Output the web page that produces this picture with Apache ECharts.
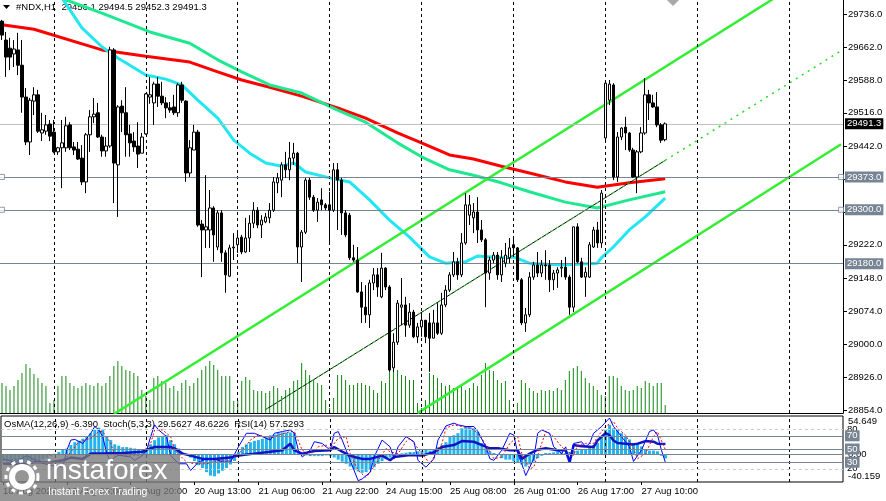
<!DOCTYPE html>
<html><head><meta charset="utf-8">
<script src="https://cdn.jsdelivr.net/npm/echarts@6/dist/echarts.min.js"></script>
<style>html,body{margin:0;padding:0;background:#fff;overflow:hidden}#c{width:886px;height:501px}</style>
</head><body><div id="c"></div>
<script>
// ---------- DATA ----------
const symbolName = '#NDX,H1';
const timeLabels = ['18 Aug 2024','19 Aug 03:00','19 Aug 20:00','20 Aug 13:00','21 Aug 06:00','21 Aug 22:00','24 Aug 15:00','25 Aug 08:00','26 Aug 01:00','26 Aug 17:00','27 Aug 10:00'];
const barsPerLabel = 16;
const totalSlots = 211;
const priceTicks = [29736,29662,29588,29516,29442,29369,29295,29222,29148,29074,29000,28926,28854];
const priceMin = 28847.3, priceMax = 29767.2;
const gridBars = [13,36,59,82,105,128,151,174,197];

const opens = [29720,29678,29660,29647,29656,29622,29551,29451,29542,29556,29471,29475,29491,29473,29429,29438,29438,29489,29440,29435,29415,29362,29467,29507,29516,29462,29431,29442,29656,29400,29531,29516,29469,29453,29442,29426,29469,29551,29538,29580,29553,29538,29527,29529,29516,29578,29542,29382,29433,29473,29268,29255,29255,29304,29217,29293,29204,29152,29215,29222,29239,29206,29237,29270,29299,29266,29273,29282,29299,29360,29366,29400,29389,29415,29426,29217,29250,29366,29328,29299,29322,29311,29311,29299,29389,29366,29293,29288,29193,29188,29117,29083,29066,29137,29155,29106,29170,29128,28948,29005,29083,29088,29043,29072,29017,29039,29054,29048,29014,29048,29025,29088,29121,29155,29184,29155,29226,29288,29282,29295,29255,29233,29159,29188,29199,29155,29181,29193,29222,29215,29144,29048,29066,29150,29177,29159,29177,29177,29144,29159,29170,29172,29150,29083,29262,29184,29150,29150,29217,29255,29226,29460,29544,29578,29373,29462,29484,29471,29433,29373,29429,29471,29556,29538,29529,29489,29456.1];
const closes = [29689,29640,29640,29658,29622,29551,29451,29544,29556,29475,29478,29489,29464,29429,29438,29449,29487,29438,29433,29413,29362,29467,29507,29513,29462,29431,29442,29656,29404,29529,29516,29467,29449,29440,29424,29462,29558,29556,29580,29553,29538,29527,29522,29516,29578,29544,29382,29438,29473,29266,29255,29262,29304,29244,29293,29204,29155,29215,29217,29237,29206,29237,29270,29299,29266,29277,29284,29299,29362,29371,29400,29389,29415,29426,29217,29250,29366,29328,29299,29317,29311,29304,29299,29389,29366,29293,29244,29193,29188,29117,29083,29066,29137,29155,29128,29170,29128,28943,29005,29092,29088,29043,29072,29017,29039,29054,29017,29014,29048,29025,29088,29121,29155,29184,29155,29226,29311,29311,29295,29255,29233,29159,29188,29199,29155,29193,29199,29215,29215,29144,29048,29066,29150,29177,29159,29177,29175,29144,29159,29166,29172,29150,29083,29262,29184,29150,29161,29222,29255,29226,29337,29582,29580,29373,29462,29482,29471,29433,29373,29429,29471,29556,29538,29529,29489,29455,29491.3];
const lows = [29678,29596,29611,29618,29600,29516,29444,29422,29511,29471,29453,29467,29453,29426,29422,29348,29429,29433,29422,29411,29355,29337,29429,29493,29460,29418,29418,29438,29315,29284,29473,29418,29418,29429,29393,29426,29467,29536,29489,29529,29533,29504,29516,29511,29507,29538,29362,29373,29433,29262,29150,29215,29215,29184,29210,29184,29115,29150,29188,29204,29201,29204,29206,29259,29259,29237,29270,29270,29295,29337,29328,29371,29366,29400,29181,29139,29246,29322,29295,29273,29299,29299,29228,29295,29255,29244,29239,29188,29184,29115,29048,29048,29037,29121,29106,29103,29121,28939,28939,28999,29043,29017,29037,29014,29003,29017,29003,28939,29014,29021,29021,29083,29117,29150,29144,29150,29222,29266,29248,29226,29228,29083,29144,29181,29144,29139,29172,29181,29195,29139,29043,29028,29061,29144,29150,29150,29144,29117,29121,29126,29150,29144,29066,29072,29181,29148,29106,29148,29215,29215,29215,29455,29533,29366,29362,29455,29433,29429,29371,29337,29426,29467,29500,29527,29484,29449,29452.3];
const highs = [29723,29696,29683,29678,29694,29678,29571,29549,29573,29567,29516,29511,29500,29500,29440,29500,29507,29495,29451,29451,29444,29471,29522,29549,29538,29467,29462,29663,29660,29533,29544,29573,29489,29473,29495,29471,29560,29596,29585,29596,29585,29551,29540,29556,29582,29585,29544,29455,29489,29478,29277,29377,29344,29308,29299,29299,29210,29222,29248,29248,29244,29282,29288,29317,29306,29288,29293,29315,29373,29382,29406,29429,29451,29449,29429,29255,29371,29371,29333,29326,29348,29315,29340,29404,29404,29371,29299,29293,29222,29217,29139,29132,29144,29170,29170,29204,29172,29132,29025,29099,29148,29106,29092,29077,29048,29072,29054,29070,29077,29092,29115,29132,29161,29206,29193,29248,29337,29333,29315,29328,29277,29237,29195,29206,29206,29210,29226,29237,29237,29217,29148,29081,29161,29184,29206,29188,29210,29188,29166,29172,29188,29195,29155,29262,29270,29193,29172,29228,29262,29273,29344,29589,29589,29582,29473,29484,29507,29473,29438,29433,29484,29593,29567,29556,29562,29493,29494.5];
const volumes = [3000,2700,2300,2700,3300,4000,4900,4500,3900,3500,3000,2700,1000,1300,2700,3700,3700,3000,2700,2500,2700,3000,2800,2700,3000,2700,3000,3700,4700,5200,4700,4300,4200,4000,3700,2300,1700,1300,3500,3700,3200,3000,2500,2700,2200,3000,3300,2700,3000,3500,4300,4700,5200,4800,4300,3700,3700,3700,1200,1300,3200,3600,3300,2300,2200,2200,2000,2200,2700,2500,1700,2300,2500,3200,3300,5000,4300,3800,3300,3000,2800,1300,500,1500,3800,3800,3300,2800,2800,3000,3000,2800,2700,2300,2000,3200,3000,4300,4800,4300,3800,3700,3300,3300,1000,500,1300,4000,3800,3500,3000,2700,2800,2500,2500,2800,2300,2500,3000,2700,3800,5000,4300,4200,3300,3000,3200,1300,300,1000,3300,3000,2500,2200,2000,2300,2200,2300,2200,2500,2300,3300,4200,4500,4700,4200,3500,3000,2700,2300,1800,1700,3700,3700,3500,2700,2300,2200,2300,2700,2500,3200,3000,2700,3000,3000,800];

const maRed = [[0,29712],[8,29702],[25,29656],[36,29642],[47,29629],[54,29607],[60,29589],[67,29573],[75,29553],[84,29527],[91,29504],[99,29471],[105,29449],[112,29422],[118,29413],[125,29397],[132,29382],[141,29362],[149,29350],[157,29360],[166,29369]];
const maGreen = [[14,29774],[25,29738],[37,29696],[47,29671],[54,29634],[60,29607],[67,29578],[75,29560],[84,29522],[91,29495],[99,29449],[105,29418],[112,29389],[118,29377],[125,29360],[132,29340],[141,29317],[149,29304],[157,29322],[166,29340]];
const maCyan = [[15,29772],[20,29705],[25,29663],[29,29638],[36,29600],[41,29591],[45,29578],[49,29544],[54,29504],[58,29455],[62,29426],[66,29404],[70,29397],[73,29404],[76,29384],[82,29371],[87,29362],[92,29322],[97,29277],[102,29239],[107,29195],[111,29181],[116,29184],[119,29197],[125,29193],[128,29195],[132,29181],[140,29177],[149,29181],[150,29193],[153,29217],[157,29255],[161,29284],[166,29326]];

const upperChannel = [[28,28845],[197,29792]];
const lowerChannel = [[104,28847],[210,29446]];
const midTrend = [[66,28855],[166,29410]];
const midTrendRay = [[166,29410],[210,29654]];

const bidPrice = 29491.3;
const levelLines = [29373.0, 29300.0];
const supportLine = 29180.0;

const osma = [-10,-11,-12,-13,-13,-14,-15,-14,-12,-10,-8,-6,-3,0.5,3,6,8,13,17,19,22,25,30,35,38,35,25,20,14,12,10,10,9,8,7,6,8,14,20,24,26,27,20,14,8,2,-1,-5,-10,-16,-20,-26,-31,-32,-28,-24,-20,-15,-10,3,10,14,17,19,20,22,24,27,28,30,31,31,31,30,2,-2,-2,-3,-3,-3,-3,-2,-3,-5,-8,-11,-14,-18,-22,-25,-27,-26,-23,-19,-14,-10,-7,-5,-3,-1,1,2,3,3,4,5,6,5,7,10,13,17,25,27,30,37,40,40,37,32,16,8.6,4,1.5,0,-6,-8,-8,-10.5,-13,-15,-18,-15,-10.5,-6,-2.5,1.5,1.5,2.5,4,2.5,1.5,2.5,5,5,6,7,11,13,16,25,35,42,37,35,30,25,21,16,13,11,6,5,5,4,-2.5,-6.39];
const osmaMax = 54.649, osmaMin = -40.159;
const stochMain = [[0,35],[3,30],[6,40],[9,30],[12,25],[15,22.5],[16,48.2],[17,63.5],[18,64.6],[20,58.4],[22,73.8],[23,84.1],[24,78.9],[25,68.7],[26,43],[27,30.2],[28,37.9],[29,40.5],[32,37.9],[33,32.8],[35,40.5],[36,48.2],[37,68.7],[38,86.6],[39,78.9],[41,68.7],[42,40.5],[44,27.6],[46,27.6],[47,17.4],[49,30.2],[51,35.3],[53,35.3],[55,30.2],[57,30.2],[59,53.3],[61,73.8],[63,73.8],[65,68.7],[67,63.5],[68,73.8],[70,76.4],[72,78.9],[73,73.8],[74,48.2],[75,37.9],[77,48.2],[78,61],[80,58.4],[82,48.2],[83,73.8],[84,76.4],[85,63.5],[87,32.8],[89,2],[90,4.6],[92,14.8],[93,37.9],[95,63.5],[97,53.3],[98,35.3],[99,53.3],[101,68.7],[103,61],[104,32.8],[106,22.5],[108,35.3],[109,63.5],[111,85],[113,89.2],[114,86.6],[116,84.1],[118,84.1],[119,76.4],[121,53.3],[122,35.3],[123,32.8],[125,48.2],[127,73.8],[128,71.2],[129,43],[130,27.6],[131,9.7],[133,35.3],[134,73.8],[135,78.9],[137,73.8],[138,53.3],[140,43],[141,53.3],[142,30.2],[143,58.4],[145,61],[146,53.3],[147,58.4],[148,73.8],[150,84.1],[152,96.9],[153,84.1],[155,68.7],[157,53.3],[158,31.2],[160,48.2],[162,76.4],[163,78.9],[164,71.2],[165,48.2],[166,29.5627]];
const stochSignal = [[0,33],[4,35],[8,35],[12,28],[14,25],[16,37.9],[18,53.3],[19,61],[22,66.1],[24,76.4],[25,76.4],[27,58.4],[28,40.5],[32,40.5],[35,40.5],[37,58.4],[38,78.9],[40,78.9],[42,68.7],[43,48.2],[46,30.2],[48,27.6],[51,27.6],[54,32.8],[57,32.8],[60,48.2],[62,63.5],[64,71.2],[67,66.1],[69,71.2],[72,76.4],[73,76.4],[75,48.2],[77,40.5],[79,53.3],[81,55.9],[82,50.7],[84,66.1],[86,68.7],[87,43],[89,17.4],[91,7.1],[92,14.8],[94,32.8],[96,50.7],[97,45.6],[99,43],[101,61],[102,66.1],[105,43],[107,27.6],[108,37.9],[110,58.4],[111,81.5],[113,86.6],[115,84.1],[117,81.5],[118,78.9],[120,66.1],[122,45.6],[123,35.3],[125,37.9],[127,58.4],[129,68.7],[130,43],[132,20],[133,22.5],[135,58.4],[136,76.4],[138,68.7],[140,53.3],[141,48.2],[143,40.5],[144,55.9],[146,58.4],[148,58.4],[149,68.7],[151,84.1],[153,91.7],[154,81.5],[156,71.2],[158,50.7],[159,35.3],[161,43],[163,68.7],[164,76.4],[166,48.6226]];
const rsi = [[0,28],[4,27],[8,30],[12,30],[15,33],[17,37],[20,35],[22,43],[25,43],[30,44],[35,46],[36,49],[38,53],[42,53],[43,51],[45,43],[47,40],[50,35],[53,35],[57,37],[58,39],[60,41],[63,43],[67,46],[70,48],[72,58],[73,48],[75,43],[78,47],[82,48],[83,53],[85,46],[87,40],[88,38],[90,35],[92,35],[95,40],[97,33],[98,38],[102,41],[105,40],[108,45],[110,53],[113,56],[115,62],[118,61],[120,56],[122,51],[124,51],[127,48],[129,48],[130,35],[132,43],[134,49],[136,51],[139,48],[141,48],[142,30],[143,56],[145,54],[148,53],[149,63],[151,74],[152,71],[153,63],[154,59],[156,58],[158,57],[159,58],[161,62],[163,61],[164,58],[166,57.5293]];
const stochLevels = [80, 70, 50, 30, 20];

// ---------- CHART ----------
const F = "'Liberation Sans',sans-serif";
const FS = 9.5;
const SLATE = '#778494';
const categories = Array.from({length: totalSlots}, (_, i) => String(i));
const last = opens.length - 1;
const headerText = symbolName + '  ' + [opens[last], highs[last], lows[last], closes[last]].map(v => v.toFixed(1)).join(' ');
const oscText = 'OsMA(12,26,9) ' + osma[last].toFixed(3) + '  Stoch(5,3,3) ' + stochMain[stochMain.length-1][1].toFixed(4) + ' ' + stochSignal[stochSignal.length-1][1].toFixed(4) + '  RSI(14) ' + rsi[rsi.length-1][1].toFixed(4);
const labelInterval = (i) => i % barsPerLabel === 0 && i / barsPerLabel < timeLabels.length;
const labelFor = (v) => { const n = parseInt(v, 10); return (n % barsPerLabel === 0 && timeLabels[n / barsPerLabel]) || ''; };

const boxLabel = (txt, bg) => ({show: true, position: 'end', distance: 2, formatter: txt, backgroundColor: bg, color: '#fff', padding: [1, 2, 0, 2], fontSize: FS, fontFamily: F});
const vDash = {color: '#000', type: [3, 3], width: 1};

const chart = echarts.init(document.getElementById('c'), null, {renderer: 'canvas'});
chart.setOption({
  animation: false,
  backgroundColor: '#fff',
  grid: [
    {left: -2, right: 43, top: 0, height: 413, show: false},
    {left: -2, right: 43, top: 416, height: 66, show: true, borderColor: '#000', borderWidth: 1, backgroundColor: 'transparent'}
  ],
  xAxis: [
    {type: 'category', gridIndex: 0, data: categories, boundaryGap: true,
     axisLine: {show: true, onZero: false, lineStyle: {color: '#000', width: 1}}, axisTick: {show: false}, axisLabel: {show: false}, splitLine: {show: false}},
    {type: 'category', gridIndex: 1, data: categories, boundaryGap: true,
     axisLine: {show: false, onZero: false},
     axisTick: {show: true, interval: labelInterval, alignWithLabel: true, length: 3, lineStyle: {color: '#000'}},
     axisLabel: {interval: labelInterval, formatter: labelFor, hideOverlap: false, showMaxLabel: true, showMinLabel: true,
       align: 'left', margin: 4, fontSize: FS, color: '#000', fontFamily: F},
     splitLine: {show: false}}
  ],
  yAxis: [
    {type: 'value', gridIndex: 0, position: 'right', min: priceMin, max: priceMax, scale: true,
     axisLine: {show: true, lineStyle: {color: '#000', width: 1}},
     axisTick: {show: true, length: 4, customValues: priceTicks, lineStyle: {color: '#000'}},
     axisLabel: {customValues: priceTicks, formatter: v => v.toFixed(1), margin: 5, fontSize: FS, color: '#000', fontFamily: F},
     splitLine: {show: false}},
    {type: 'value', gridIndex: 0, min: 0, max: 41300, show: false},
    {type: 'value', gridIndex: 1, position: 'right', min: osmaMin, max: osmaMax,
     axisLine: {show: false}, axisTick: {show: false}, splitLine: {show: false},
     axisLabel: {customValues: [osmaMax, 0, osmaMin], margin: 5, fontSize: FS, color: '#000', fontFamily: F,
       formatter: v => v === osmaMax ? '{t|' + osmaMax.toFixed(3) + '}' : (v === osmaMin ? '{b|' + osmaMin.toFixed(3) + '}' : '0.00'),
       rich: {t: {padding: [11, 0, 0, 0], fontSize: FS, fontFamily: F, color: '#000'}, b: {padding: [0, 0, 11, 0], fontSize: FS, fontFamily: F, color: '#000'}}}},
    {type: 'value', gridIndex: 1, position: 'right', min: 0, max: 100,
     axisLine: {show: false}, axisTick: {show: false}, splitLine: {show: false},
     axisLabel: {customValues: [80, 20], margin: 4, fontSize: FS, color: '#000', fontFamily: F}}
  ],
  series: [
    {type: 'bar', name: 'vol', xAxisIndex: 0, yAxisIndex: 1, data: volumes, barWidth: 1, silent: true,
     itemStyle: {color: '#118811'}, z: 1,
     markLine: {silent: true, symbol: 'none', label: {show: false}, lineStyle: vDash,
       data: gridBars.map(i => ({xAxis: i}))}},
    {type: 'line', name: 'hlines', xAxisIndex: 0, yAxisIndex: 0, data: [], silent: true,
     markLine: {silent: true, symbol: 'none',
       data: [
         {yAxis: bidPrice, lineStyle: {color: '#c0c0c0', width: 1, type: 'solid'}, label: boxLabel(bidPrice.toFixed(1), '#000')},
         ...levelLines.map(p => ({yAxis: p, lineStyle: {color: SLATE, width: 1, type: 'solid'}, label: boxLabel(p.toFixed(1), SLATE)})),
         {yAxis: supportLine, lineStyle: {color: SLATE, width: 1, type: 'solid'}, label: boxLabel(supportLine.toFixed(1), SLATE)}
       ]}},
    {type: 'scatter', xAxisIndex: 0, yAxisIndex: 0, silent: true, symbol: 'rect', symbolSize: 5,
     itemStyle: {color: '#fff', borderColor: SLATE, borderWidth: 1},
     data: levelLines.flatMap(p => [[0, p], [totalSlots - 1, p]]), z: 6},
    {type: 'line', name: 'maRed', xAxisIndex: 0, yAxisIndex: 0, data: maRed, showSymbol: false, silent: true,
     lineStyle: {color: '#ff0000', width: 3}, z: 3},
    {type: 'line', name: 'maGreen', xAxisIndex: 0, yAxisIndex: 0, data: maGreen, showSymbol: false, silent: true,
     lineStyle: {color: '#1ee890', width: 3}, z: 3},
    {type: 'line', name: 'maCyan', xAxisIndex: 0, yAxisIndex: 0, data: maCyan, showSymbol: false, silent: true,
     lineStyle: {color: '#22e6f0', width: 3}, z: 3},
    {type: 'line', xAxisIndex: 0, yAxisIndex: 0, data: upperChannel, showSymbol: false, silent: true,
     lineStyle: {color: '#33ee33', width: 2.5}, z: 4},
    {type: 'line', xAxisIndex: 0, yAxisIndex: 0, data: lowerChannel, showSymbol: false, silent: true,
     lineStyle: {color: '#33ee33', width: 2.5}, z: 4},
    {type: 'line', xAxisIndex: 0, yAxisIndex: 0, data: midTrend, showSymbol: false, silent: true,
     lineStyle: {color: '#000', width: 1}, z: 4},
    {type: 'line', xAxisIndex: 0, yAxisIndex: 0, data: midTrend, showSymbol: false, silent: true,
     lineStyle: {color: '#22dd22', width: 1, type: [3, 3]}, z: 4},
    {type: 'line', xAxisIndex: 0, yAxisIndex: 0, data: midTrendRay, showSymbol: false, silent: true,
     lineStyle: {color: '#22dd22', width: 1.5, type: [2, 5]}, z: 4},
    {type: 'candlestick', name: 'price', xAxisIndex: 0, yAxisIndex: 0, silent: true, barWidth: 3, z: 5,
     data: opens.map((o, i) => [o, closes[i], lows[i], highs[i]]),
     itemStyle: {color: '#ffffff', color0: '#000000', borderColor: '#000000', borderColor0: '#000000', borderWidth: 1}},
    // oscillator panel
    {type: 'bar', name: 'OsMA', xAxisIndex: 1, yAxisIndex: 2, data: osma, barWidth: 3, silent: true,
     itemStyle: {color: '#22b4ec'}, z: 2,
     markLine: {silent: true, symbol: 'none', label: {show: false},
       data: [{yAxis: 0, lineStyle: {color: SLATE, width: 1, type: 'solid'}}]}},
    {type: 'line', name: 'levels', xAxisIndex: 1, yAxisIndex: 3, data: [], silent: true,
     markLine: {silent: true, symbol: 'none',
       data: [
         ...gridBars.map(i => ({xAxis: i, lineStyle: vDash, label: {show: false}})),
         ...stochLevels.map(l => (l === 80 || l === 20)
            ? {yAxis: l, lineStyle: {color: '#c8c8c8', width: 1, type: [3, 3]}, label: {show: false}}
            : {yAxis: l, lineStyle: {color: SLATE, width: 1, type: 'solid'}, label: boxLabel(String(l), SLATE)})
       ]}},
    {type: 'line', name: 'RSI', xAxisIndex: 1, yAxisIndex: 3, data: rsi, showSymbol: false, silent: true,
     lineStyle: {color: '#1414c4', width: 2.5}, z: 4},
    {type: 'line', name: 'StochSignal', xAxisIndex: 1, yAxisIndex: 3, data: stochSignal, showSymbol: false, silent: true,
     lineStyle: {color: '#ff0000', width: 1, type: [2, 2]}, z: 4},
    {type: 'line', name: 'StochMain', xAxisIndex: 1, yAxisIndex: 3, data: stochMain, showSymbol: false, silent: true,
     lineStyle: {color: '#0000ff', width: 1}, z: 4}
  ],
  graphic: [
    {type: 'polygon', shape: {points: [[3, 5], [10, 5], [6.5, 9]]}, style: {fill: '#000'}, z: 1},
    {type: 'text', left: 16, top: 2, style: {text: headerText, fontSize: FS, fontFamily: F, fill: '#000'}, z: 1},
    {type: 'text', left: 4, top: 419, style: {text: oscText, fontSize: FS, fontFamily: F, fill: '#000'}, z: 1},
    {type: 'polygon', shape: {points: [[667, 0], [679, 0], [673, 6]]}, style: {fill: '#a8a8a8'}, z: 1},
    {type: 'group', z: 100, children: [
      {type: 'rect', shape: {x: 0, y: 454, width: 180, height: 47}, style: {fill: 'rgba(120,120,120,0.78)'}, z: 100},
      {type: 'circle', shape: {cx: 22, cy: 477, r: 10}, style: {fill: 'none', stroke: '#fff', lineWidth: 6}, z: 101},
      {type: 'circle', shape: {cx: 22, cy: 477, r: 16}, style: {fill: 'none', stroke: '#fff', lineWidth: 3, lineDash: [4, 4]}, z: 101},
      {type: 'text', left: 46, top: 457, style: {text: 'instaforex', fontSize: 28, fontFamily: "'Liberation Sans',sans-serif", fill: '#fff'}, z: 101},
      {type: 'text', left: 48, top: 487, style: {text: 'Instant Forex Trading', fontSize: 10.5, fontFamily: "'Liberation Sans',sans-serif", fill: '#fff'}, z: 101}
    ]}
  ]
});
</script></body></html>
